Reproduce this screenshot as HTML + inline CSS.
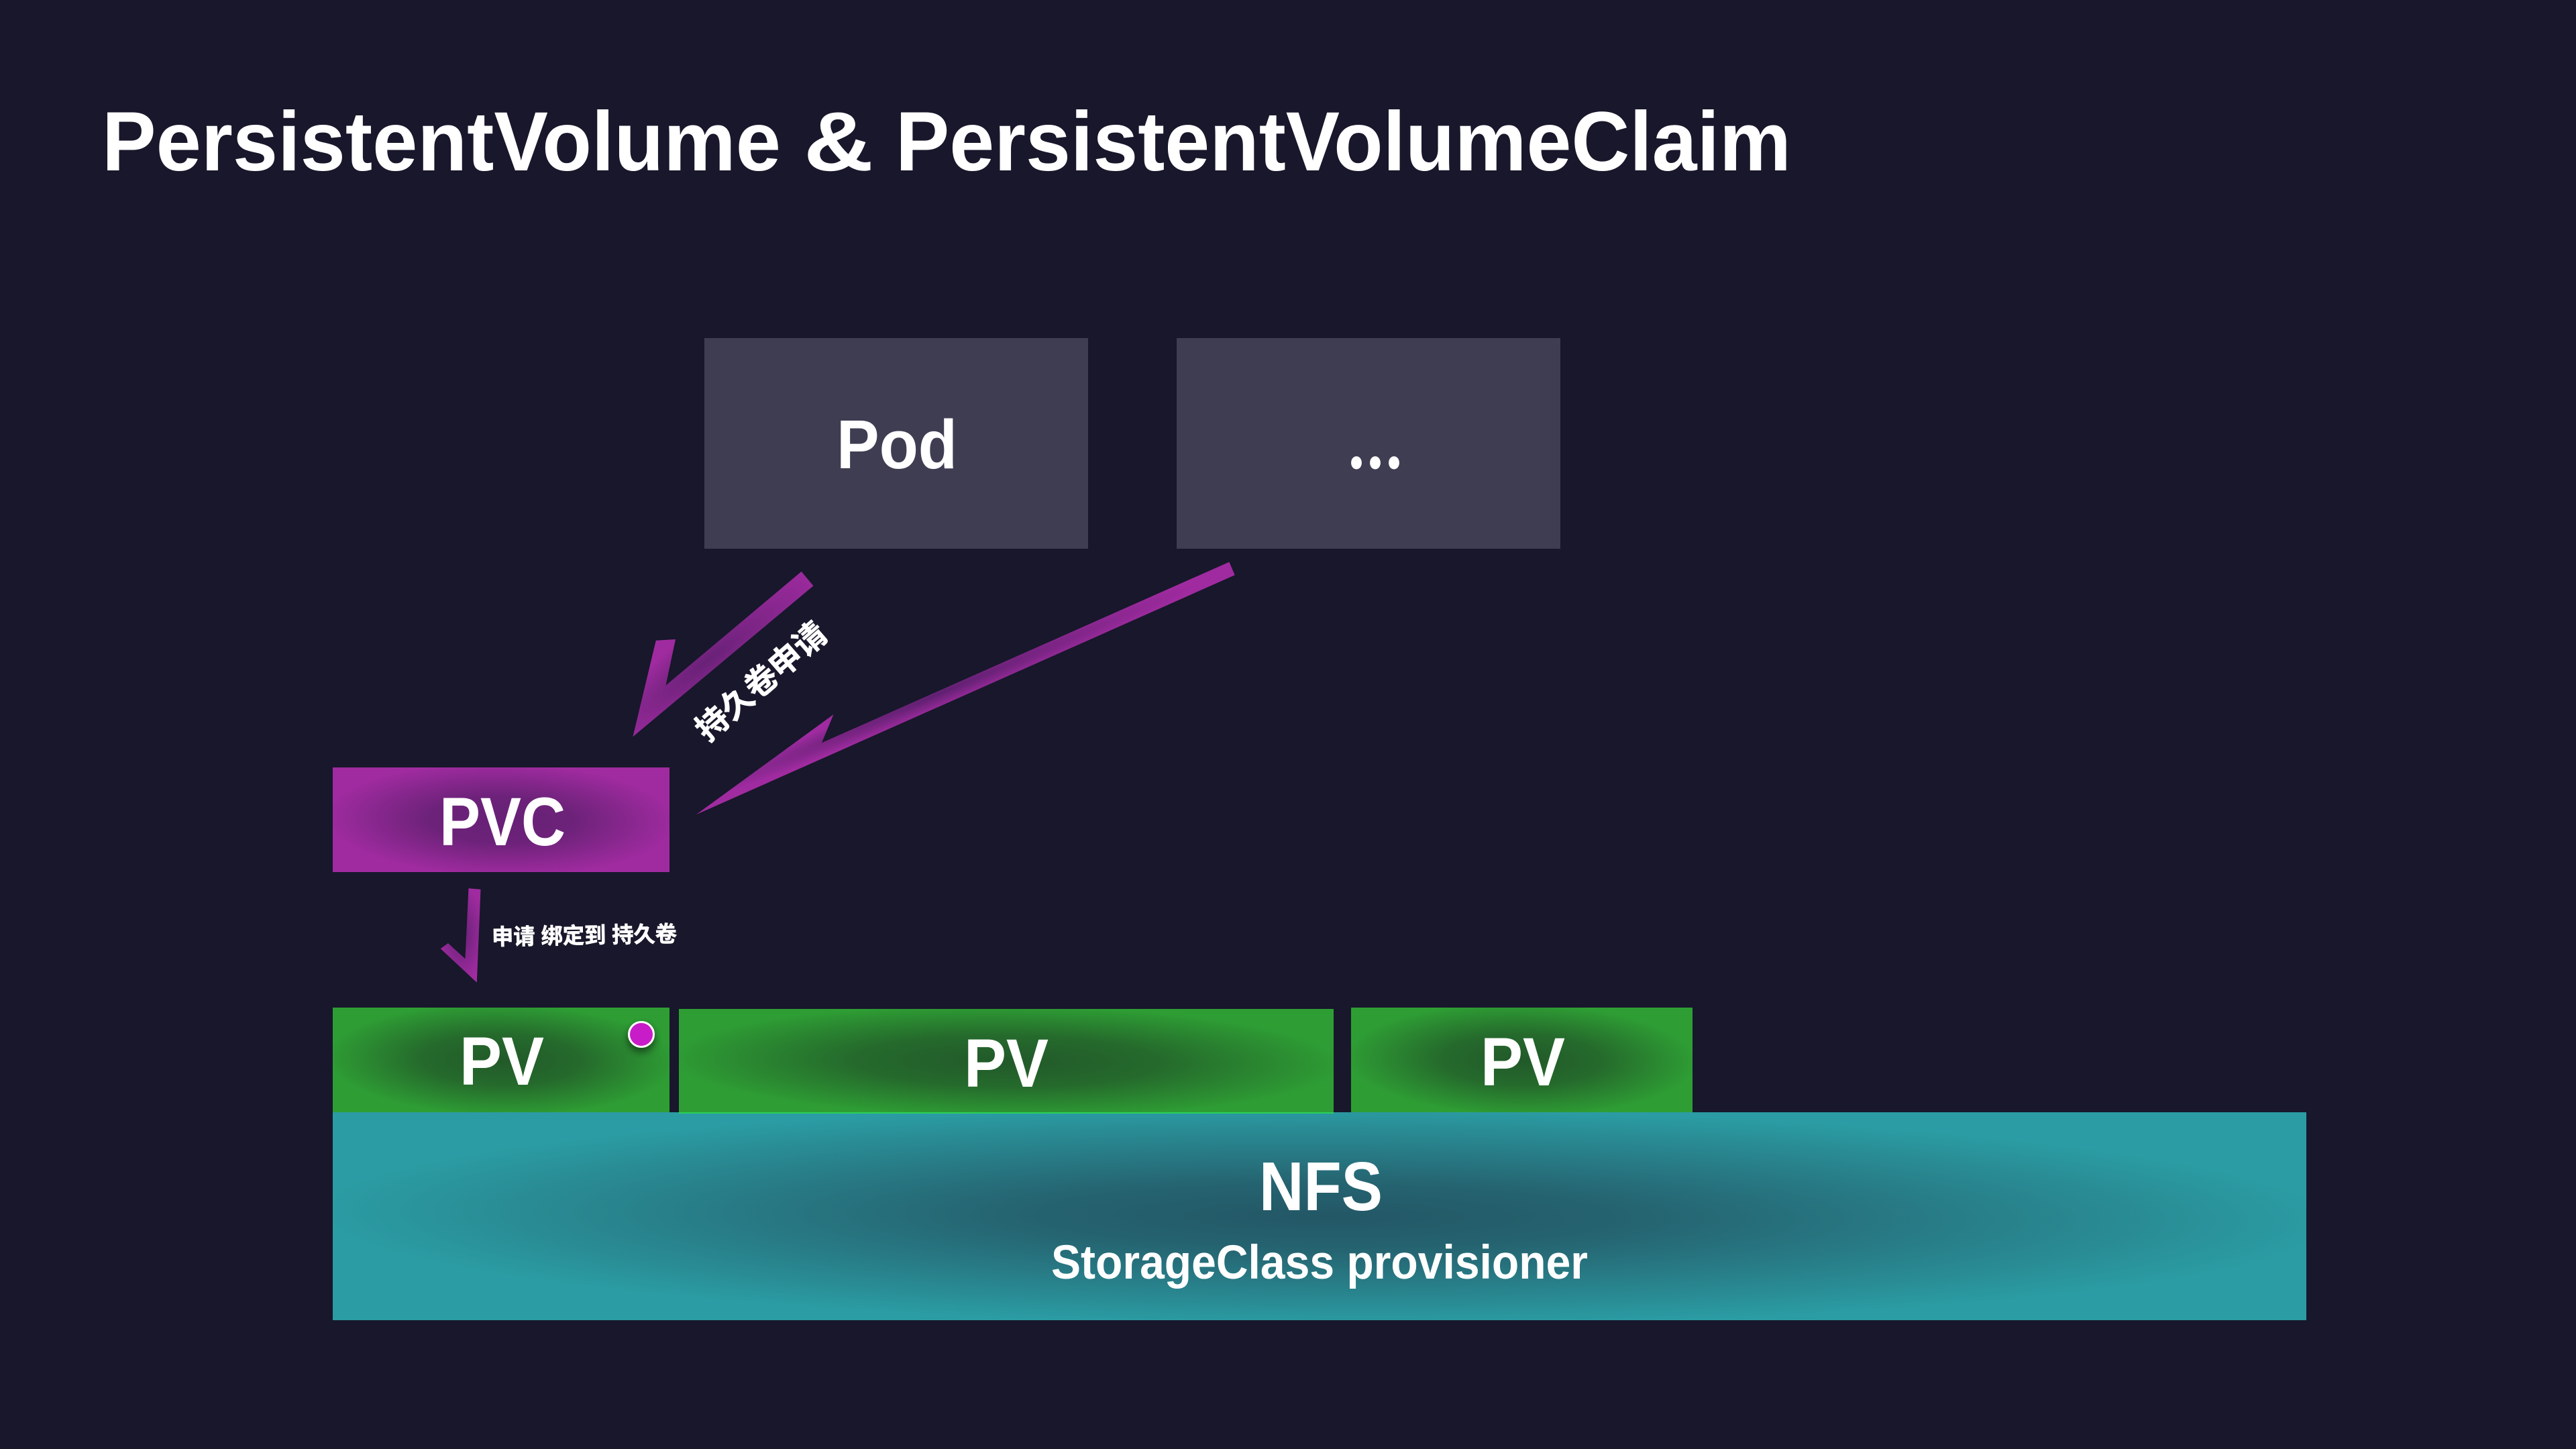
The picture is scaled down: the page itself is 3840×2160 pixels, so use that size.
<!DOCTYPE html>
<html><head><meta charset="utf-8"><title>PersistentVolume &amp; PersistentVolumeClaim</title>
<style>html,body{margin:0;padding:0;background:#18172b}svg{display:block}
text{font-family:"Liberation Sans","Noto Sans CJK SC",sans-serif;font-weight:700;fill:#fff}
.c{font-family:"Liberation Sans","Noto Sans CJK SC",sans-serif;stroke:#fff;stroke-width:.7}
.d{font-family:"Noto Sans CJK SC","Liberation Sans",sans-serif}</style></head>
<body>
<svg xmlns="http://www.w3.org/2000/svg" width="3840" height="2160" viewBox="0 0 3840 2160">
<defs>
<radialGradient id="pvc" gradientUnits="userSpaceOnUse" cx="0" cy="0" r="1" gradientTransform="translate(747 1222) rotate(1) scale(262 84)"><stop offset="0" stop-color="#672176"/><stop offset=".4" stop-color="#6c2279"/><stop offset="1" stop-color="#a02ba0"/></radialGradient>
<radialGradient id="pv1" gradientUnits="userSpaceOnUse" cx="0" cy="0" r="1" gradientTransform="translate(747 1580) rotate(1) scale(262 84)"><stop offset="0" stop-color="#22592a"/><stop offset=".45" stop-color="#256a2c"/><stop offset="1" stop-color="#2e9e34"/></radialGradient>
<radialGradient id="pv2" gradientUnits="userSpaceOnUse" cx="0" cy="0" r="1" gradientTransform="translate(1500 1582) rotate(.6) scale(505 84)"><stop offset="0" stop-color="#22592a"/><stop offset=".45" stop-color="#256a2c"/><stop offset="1" stop-color="#2e9e34"/></radialGradient>
<radialGradient id="pv3" gradientUnits="userSpaceOnUse" cx="0" cy="0" r="1" gradientTransform="translate(2268 1580) rotate(1) scale(262 84)"><stop offset="0" stop-color="#22592a"/><stop offset=".45" stop-color="#256a2c"/><stop offset="1" stop-color="#2e9e34"/></radialGradient>
<radialGradient id="nfs" gradientUnits="userSpaceOnUse" cx="0" cy="0" r="1" gradientTransform="translate(1975 1813) rotate(.3) scale(1500 162)"><stop offset="0" stop-color="#235766"/><stop offset=".3" stop-color="#256370"/><stop offset="1" stop-color="#2b9ca3"/></radialGradient>
<radialGradient id="a1" gradientUnits="userSpaceOnUse" cx="0" cy="0" r="1" gradientTransform="translate(1055 985) rotate(-38) scale(220 50)"><stop offset="0" stop-color="#672176"/><stop offset="1" stop-color="#a02ba0"/></radialGradient>
<radialGradient id="a2" gradientUnits="userSpaceOnUse" cx="0" cy="0" r="1" gradientTransform="translate(1400 1034) rotate(-23) scale(420 22)"><stop offset="0" stop-color="#5f2070"/><stop offset="1" stop-color="#a02ba0"/></radialGradient>
<radialGradient id="a3" gradientUnits="userSpaceOnUse" cx="0" cy="0" r="1" gradientTransform="translate(688 1392) rotate(90) scale(72 36)"><stop offset="0" stop-color="#672176"/><stop offset="1" stop-color="#a02ba0"/></radialGradient>
<filter id="sh" x="-50%" y="-50%" width="200%" height="200%"><feDropShadow dx="0" dy="6" stdDeviation="6" flood-color="#000" flood-opacity=".55"/></filter>
</defs>
<rect width="3840" height="2160" fill="#18172b"/>
<text x="152" y="254" font-size="125" textLength="1012" lengthAdjust="spacingAndGlyphs">PersistentVolume</text>
<text x="1198" y="254" font-size="125" textLength="104" lengthAdjust="spacingAndGlyphs">&amp;</text>
<text x="1335" y="254" font-size="125" textLength="1335" lengthAdjust="spacingAndGlyphs">PersistentVolumeClaim</text>

<rect x="1050" y="504" width="572" height="314" fill="#3f3d52"/>
<rect x="1754" y="504" width="572" height="314" fill="#3f3d52"/>
<text x="1247" y="698" font-size="103" textLength="180" lengthAdjust="spacingAndGlyphs">Pod</text>
<text class="d" x="2008" y="698" font-size="100" textLength="84" lengthAdjust="spacingAndGlyphs">...</text>

<polygon points="1194.6,852 1212.5,873.3 943.4,1098.3 977.8,954.7 1007,953 992.5,1021.7" fill="url(#a1)"/>
<polygon points="1832.4,837.7 1840.7,857.3 1037.8,1214.3 1242.5,1065 1225,1107.3" fill="url(#a2)"/>
<polygon points="698.5,1324.3 716.5,1325.7 710.8,1464.6 656.8,1414.3 667.9,1406 693.5,1429.3" fill="url(#a3)"/>

<text class="c" transform="translate(1134 1015) rotate(-41)" x="-120" y="18" font-size="48" textLength="240" lengthAdjust="spacingAndGlyphs">持久卷申请</text>
<text class="c" transform="rotate(-1 871 1394)" x="733" y="1406" font-size="33" textLength="276" lengthAdjust="spacingAndGlyphs">申请 绑定到 持久卷</text>

<rect x="496" y="1144" width="502" height="156" fill="url(#pvc)"/>
<text x="655" y="1260" font-size="102" textLength="188" lengthAdjust="spacingAndGlyphs">PVC</text>

<rect x="496" y="1502" width="502" height="156" fill="url(#pv1)"/>
<rect x="1012" y="1504" width="976" height="156" fill="#2bd058"/>
<rect x="1012" y="1504" width="976" height="154" fill="url(#pv2)"/>
<rect x="2014" y="1502" width="509" height="156" fill="url(#pv3)"/>
<rect x="496" y="1658" width="2942" height="310" fill="url(#nfs)"/>
<rect x="1012" y="1658" width="976" height="2" fill="#2bd058"/>

<text x="685" y="1617" font-size="102" textLength="126" lengthAdjust="spacingAndGlyphs">PV</text>
<text x="1437" y="1620" font-size="102" textLength="126" lengthAdjust="spacingAndGlyphs">PV</text>
<text x="2207" y="1618" font-size="102" textLength="126" lengthAdjust="spacingAndGlyphs">PV</text>
<circle cx="956" cy="1542" r="18.5" fill="#c81fc8" stroke="#fff" stroke-width="3" filter="url(#sh)"/>

<text x="1877" y="1804" font-size="103" textLength="184" lengthAdjust="spacingAndGlyphs">NFS</text>
<text x="1567" y="1906" font-size="71" textLength="800" lengthAdjust="spacingAndGlyphs">StorageClass provisioner</text>
</svg>
</body></html>
